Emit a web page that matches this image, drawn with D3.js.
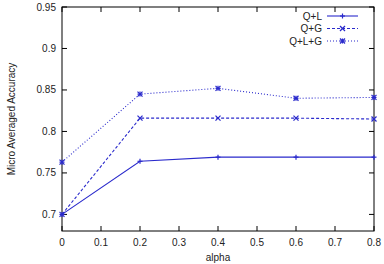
<!DOCTYPE html>
<html>
<head>
<meta charset="utf-8">
<script src="https://cdn.jsdelivr.net/npm/d3@7"></script>
<style>
  body { margin: 0; background: #fff; }
  text { font-family: "Liberation Sans", Arial, sans-serif; fill: #222; }
</style>
</head>
<body>
<div class="chart"></div>
<script>
const alphas = [0, 0.2, 0.4, 0.6, 0.8];
const qL = [0.700, 0.764, 0.769, 0.769, 0.769];
const qG = [0.700, 0.816, 0.816, 0.816, 0.815];
const qLG = [0.763, 0.845, 0.852, 0.840, 0.841];
const xTicks = [0, 0.1, 0.2, 0.3, 0.4, 0.5, 0.6, 0.7, 0.8];
const yTicks = [0.7, 0.75, 0.8, 0.85, 0.9, 0.95];

const width = 384;
const height = 264;
const pLeft = 62, pRight = 374, pTop = 7, pBottom = 231;
const color = "#2a2acc";

const svg = d3.select(".chart").append("svg")
  .attr("width", width)
  .attr("height", height);

const x = d3.scaleLinear().domain([0, 0.8]).range([pLeft, pRight]);
const y = d3.scaleLinear().domain([0.68, 0.95]).range([pBottom, pTop]);

// frame
svg.append("rect")
  .attr("x", pLeft).attr("y", pTop)
  .attr("width", pRight - pLeft).attr("height", pBottom - pTop)
  .attr("fill", "none").attr("stroke", "#000").attr("stroke-width", 1);

// ticks, inward on all four sides
svg.selectAll("line.xt").data(xTicks).enter().append("line")
  .attr("x1", d => x(d)).attr("x2", d => x(d))
  .attr("y1", pBottom).attr("y2", pBottom - 5)
  .attr("stroke", "#000");
svg.selectAll("line.xt2").data(xTicks).enter().append("line")
  .attr("x1", d => x(d)).attr("x2", d => x(d))
  .attr("y1", pTop).attr("y2", pTop + 5)
  .attr("stroke", "#000");
svg.selectAll("line.yt").data(yTicks).enter().append("line")
  .attr("x1", pLeft).attr("x2", pLeft + 5)
  .attr("y1", d => y(d)).attr("y2", d => y(d))
  .attr("stroke", "#000");
svg.selectAll("line.yt2").data(yTicks).enter().append("line")
  .attr("x1", pRight).attr("x2", pRight - 5)
  .attr("y1", d => y(d)).attr("y2", d => y(d))
  .attr("stroke", "#000");

svg.selectAll("text.xl").data(xTicks).enter().append("text")
  .attr("x", d => x(d)).attr("y", pBottom + 15)
  .attr("text-anchor", "middle").attr("font-size", 10)
  .text(d => d3.format("")(d));
svg.selectAll("text.yl").data(yTicks).enter().append("text")
  .attr("x", pLeft - 6).attr("y", d => y(d)).attr("dy", 3.5)
  .attr("text-anchor", "end").attr("font-size", 10)
  .text(d => d3.format("")(d));

svg.append("text")
  .attr("x", (pLeft + pRight) / 2).attr("y", 261)
  .attr("text-anchor", "middle").attr("font-size", 10)
  .text("alpha");
svg.append("text")
  .attr("transform", "translate(15," + ((pTop + pBottom) / 2) + ") rotate(-90)")
  .attr("text-anchor", "middle").attr("font-size", 10)
  .text("Micro Averaged Accuracy");

const series = [
  { name: "Q+L", values: qL, dash: null, mark: "plus" },
  { name: "Q+G", values: qG, dash: "3,2", mark: "cross" },
  { name: "Q+L+G", values: qLG, dash: "1,2", mark: "star" }
];

const line = d3.line().x(d => x(d[0])).y(d => y(d[1]));

function marker(g, cx, cy, type) {
  const s = 2.5;
  const p = [];
  if (type === "plus" || type === "star") {
    p.push([cx - s, cy, cx + s, cy], [cx, cy - s, cx, cy + s]);
  }
  if (type === "cross" || type === "star") {
    p.push([cx - s, cy - s, cx + s, cy + s], [cx - s, cy + s, cx + s, cy - s]);
  }
  p.forEach(l => g.append("line")
    .attr("x1", l[0]).attr("y1", l[1]).attr("x2", l[2]).attr("y2", l[3])
    .attr("stroke", color).attr("stroke-width", 1.2));
}

series.forEach((s, i) => {
  const pts = alphas.map((a, j) => [a, s.values[j]]);
  svg.append("path")
    .attr("d", line(pts))
    .attr("fill", "none")
    .attr("stroke", color)
    .attr("stroke-width", 1.1)
    .attr("stroke-dasharray", s.dash);
  const g = svg.append("g");
  pts.forEach(p => marker(g, x(p[0]), y(p[1]), s.mark));

  // legend
  const ly = 16 + i * 12.5;
  svg.append("text")
    .attr("x", 322).attr("y", ly).attr("dy", 3.5)
    .attr("text-anchor", "end").attr("font-size", 10)
    .text(s.name);
  svg.append("line")
    .attr("x1", 327).attr("x2", 358).attr("y1", ly).attr("y2", ly)
    .attr("stroke", color).attr("stroke-width", 1.1)
    .attr("stroke-dasharray", s.dash);
  marker(svg, 342.5, ly, s.mark);
});
</script>
</body>
</html>
